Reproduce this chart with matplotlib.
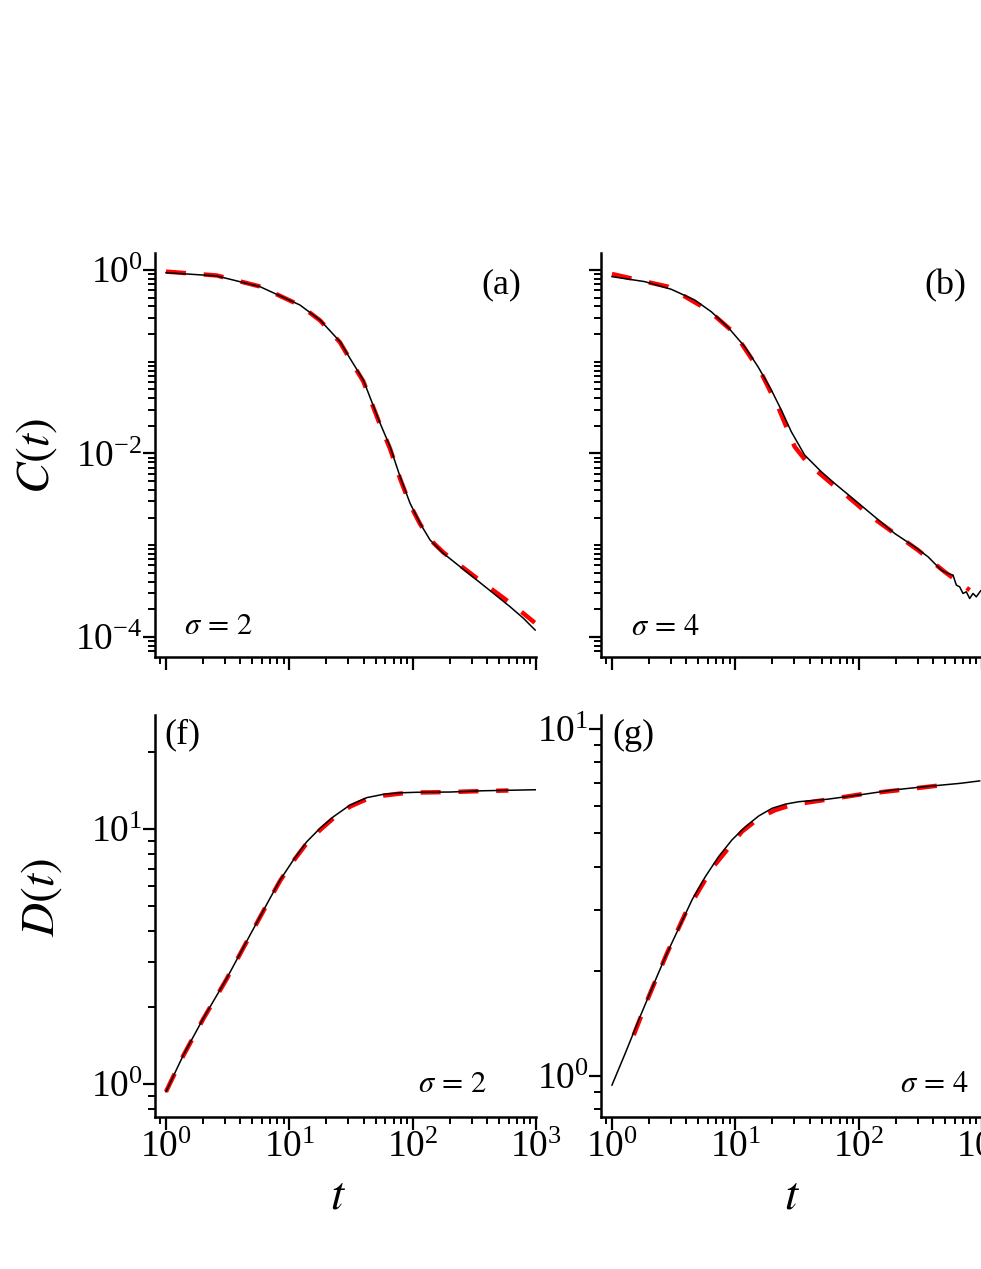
import numpy as np
import matplotlib
matplotlib.use('Agg')
import matplotlib.pyplot as plt
from matplotlib.ticker import LogLocator, NullFormatter, FuncFormatter

plt.rcParams['font.family'] = 'serif'
plt.rcParams['font.serif'] = ['Liberation Serif', 'DejaVu Serif']
plt.rcParams['mathtext.fontset'] = 'stix'

# values, stored as log10(t) and log10(y)
# (a) C(t), sigma = 2
a_sim_logt = [0, 0.411, 0.762, 1.086, 1.249, 1.411, 1.492, 1.60, 1.736, 1.817,
              1.898, 1.979, 2.060, 2.141, 2.249, 2.384, 2.520, 2.655, 2.790, 2.898, 2.993]
a_sim_logy = [-0.029, -0.065, -0.182, -0.382, -0.545, -0.782, -0.964, -1.20, -1.672, -1.927,
              -2.254, -2.544, -2.762, -2.944, -3.090, -3.235, -3.381, -3.526, -3.672, -3.798, -3.926]
a_fit_logt = [0, 0.411, 0.762, 1.086, 1.249, 1.411, 1.492, 1.60, 1.736, 1.817,
              1.898, 1.979, 2.060, 2.141, 2.249, 2.384, 2.520, 2.655, 2.790, 2.898, 2.990]
a_fit_logy = [-0.018, -0.060, -0.180, -0.385, -0.550, -0.790, -0.975, -1.215, -1.690, -1.950,
              -2.275, -2.560, -2.770, -2.940, -3.080, -3.220, -3.360, -3.495, -3.630, -3.745, -3.846]

# (b) C(t), sigma = 4
b_sim_logt = [0, 0.265, 0.481, 0.670, 0.805, 0.941, 1.076, 1.184, 1.292, 1.373,
              1.454, 1.562, 1.697, 1.805, 1.968, 2.130, 2.292, 2.454, 2.562, 2.670,
              2.724, 2.765, 2.792, 2.819, 2.846, 2.873, 2.900, 2.927, 2.954, 2.989]
b_sim_logy = [-0.073, -0.127, -0.211, -0.327, -0.455, -0.625, -0.836, -1.055, -1.309, -1.527,
              -1.764, -2.018, -2.200, -2.327, -2.509, -2.691, -2.873, -3.018, -3.127, -3.273,
              -3.309, -3.327, -3.436, -3.455, -3.527, -3.509, -3.582, -3.527, -3.564, -3.498]
b_fit_logt = [0, 0.454, 0.778, 0.995, 1.211, 1.346, 1.481, 1.589, 1.778, 1.914,
              2.103, 2.481, 2.697, 2.900]
b_fit_logy = [-0.044, -0.182, -0.436, -0.691, -1.127, -1.491, -1.927, -2.109, -2.327, -2.473,
              -2.691, -3.055, -3.291, -3.491]

# (f) D(t), sigma = 2
f_sim_logt = [0, 0.141, 0.303, 0.492, 0.681, 0.843, 0.925, 1.032, 1.141, 1.249,
              1.357, 1.492, 1.628, 1.762, 1.898, 2.033, 2.303, 2.573, 3.0]
f_sim_logy = [-0.030, 0.114, 0.258, 0.414, 0.584, 0.728, 0.800, 0.878, 0.950, 1.003,
              1.048, 1.094, 1.123, 1.136, 1.142, 1.144, 1.145, 1.150, 1.154]
f_fit_logt = [0, 0.141, 0.303, 0.492, 0.681, 0.843, 0.925, 1.032, 1.141, 1.249,
              1.357, 1.492, 1.628, 1.762, 1.898, 2.033, 2.303, 2.573, 2.776]
f_fit_logy = [-0.030, 0.112, 0.256, 0.412, 0.582, 0.726, 0.797, 0.874, 0.944, 0.996,
              1.042, 1.088, 1.117, 1.131, 1.139, 1.143, 1.145, 1.149, 1.151]

# (g) D(t), sigma = 4
g_sim_logt = [0, 0.108, 0.217, 0.324, 0.433, 0.541, 0.649, 0.757, 0.865, 0.973,
              1.082, 1.190, 1.298, 1.406, 1.514, 1.743, 2.014, 2.284, 2.554, 2.824, 2.981]
g_sim_logy = [-0.027, 0.065, 0.161, 0.252, 0.343, 0.425, 0.507, 0.574, 0.632, 0.680,
              0.718, 0.749, 0.771, 0.783, 0.790, 0.797, 0.810, 0.824, 0.834, 0.843, 0.850]
g_fit_logt = [0.176, 0.298, 0.446, 0.595, 0.811, 1.054, 1.200, 1.325, 1.460, 1.743,
              2.014, 2.419, 2.730]
g_fit_logy = [0.117, 0.228, 0.353, 0.468, 0.598, 0.704, 0.745, 0.766, 0.781, 0.796,
              0.811, 0.827, 0.840]

W, H = 981, 1269
fig = plt.figure(figsize=(W / 100, H / 100), dpi=100)


def add_ax(left, top, right, bottom):
    return fig.add_axes([left / W, 1 - bottom / H, (right - left) / W, (bottom - top) / H])


def pow10(v, pos):
    return r'$\mathdefault{10^{%d}}$' % int(round(np.log10(v)))


def style(ax, ylim, ymajor_base, show_x, show_y):
    ax.set_xscale('log')
    ax.set_yscale('log')
    ax.set_xlim(10 ** -0.089, 1e3)
    ax.set_ylim(*ylim)
    for s in ['top', 'right']:
        ax.spines[s].set_visible(False)
    for s in ['left', 'bottom']:
        ax.spines[s].set_linewidth(1.8)
    ax.xaxis.set_major_locator(LogLocator(base=10))
    ax.xaxis.set_minor_locator(LogLocator(base=10, subs=np.arange(2, 10)))
    ax.yaxis.set_major_locator(LogLocator(base=ymajor_base))
    ax.yaxis.set_minor_locator(LogLocator(base=10, subs=np.arange(1, 10)))
    ax.xaxis.set_major_formatter(FuncFormatter(pow10))
    ax.yaxis.set_major_formatter(FuncFormatter(pow10))
    ax.xaxis.set_minor_formatter(NullFormatter())
    ax.yaxis.set_minor_formatter(NullFormatter())
    ax.tick_params(which='major', direction='out', length=9, width=1.6, labelsize=27)
    ax.tick_params(which='minor', direction='out', length=5, width=1.4)
    ax.tick_params(axis='x', which='major', pad=1)
    ax.tick_params(axis='y', which='major', pad=0)
    ax.tick_params(labelbottom=show_x, labelleft=show_y)


def draw(ax, sx, sy, fx, fy):
    ax.plot(np.power(10.0, fx), np.power(10.0, fy), color='#ff0000', lw=3.2,
            linestyle=(0, (4.5, 4.0)), zorder=2)
    ax.plot(np.power(10.0, sx), np.power(10.0, sy), color='black', lw=1.1, zorder=3)


ax_a = add_ax(155, 253, 536, 657)
ax_b = add_ax(601, 253, 982, 657)
ax_f = add_ax(155, 715, 536, 1117)
ax_g = add_ax(601, 715, 982, 1117)

style(ax_a, (10 ** -4.22, 10 ** 0.185), 100, False, True)
style(ax_b, (10 ** -4.22, 10 ** 0.185), 100, False, False)
style(ax_f, (10 ** -0.129, 10 ** 1.447), 10, True, True)
style(ax_g, (10 ** -0.119, 10 ** 1.040), 10, True, True)

draw(ax_a, a_sim_logt, a_sim_logy, a_fit_logt, a_fit_logy)
draw(ax_b, b_sim_logt, b_sim_logy, b_fit_logt, b_fit_logy)
draw(ax_f, f_sim_logt, f_sim_logy, f_fit_logt, f_fit_logy)
draw(ax_g, g_sim_logt, g_sim_logy, g_fit_logt, g_fit_logy)

# panel tags and sigma values
ax_a.text(0.96, 0.92, '(a)', transform=ax_a.transAxes, ha='right', va='center', fontsize=26)
ax_b.text(0.96, 0.92, '(b)', transform=ax_b.transAxes, ha='right', va='center', fontsize=26)
ax_f.text(0.025, 0.95, '(f)', transform=ax_f.transAxes, ha='left', va='center', fontsize=26)
ax_g.text(0.03, 0.95, '(g)', transform=ax_g.transAxes, ha='left', va='center', fontsize=26)
ax_a.text(0.165, 0.075, r'$\sigma\,=\,2$', transform=ax_a.transAxes, ha='center', va='center', fontsize=22)
ax_b.text(0.168, 0.072, r'$\sigma\,=\,4$', transform=ax_b.transAxes, ha='center', va='center', fontsize=22)
ax_f.text(0.78, 0.08, r'$\sigma\,=\,2$', transform=ax_f.transAxes, ha='center', va='center', fontsize=22)
ax_g.text(0.875, 0.08, r'$\sigma\,=\,4$', transform=ax_g.transAxes, ha='center', va='center', fontsize=22)

# axis titles
fig.text(37 / W, 1 - 456 / H, r'$C(t)$', rotation=90, ha='center', va='center', fontsize=34)
fig.text(42 / W, 1 - 898 / H, r'$D(t)$', rotation=90, ha='center', va='center', fontsize=34)
fig.text(338 / W, 1 - 1197 / H, r'$t$', ha='center', va='center', fontsize=34)
fig.text(792 / W, 1 - 1197 / H, r'$t$', ha='center', va='center', fontsize=34)

fig.savefig('out.png', dpi=100)
